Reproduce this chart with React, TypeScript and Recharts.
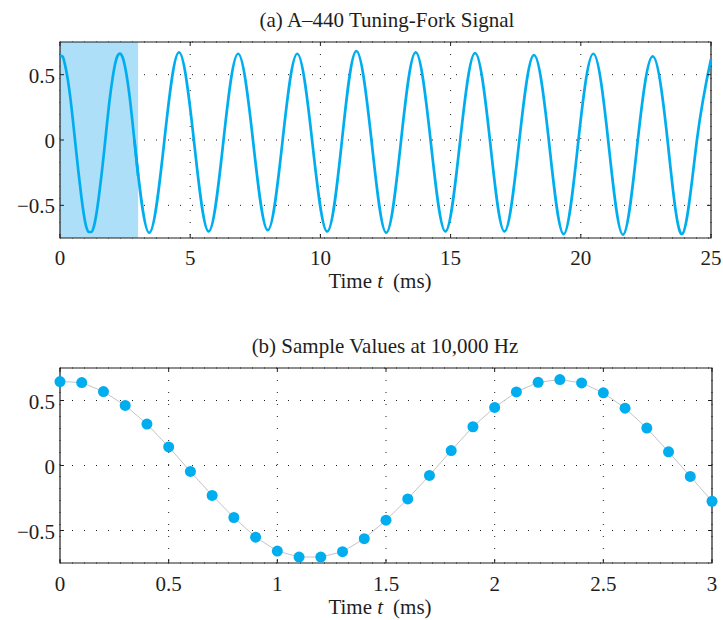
import { CartesianGrid, Line, LineChart, ReferenceArea, XAxis, YAxis } from "recharts";

// samples of the tuning-fork signal at 10 kHz (panel b), also the first 3 ms of panel a
const sampleTimes = [
  0, 0.1, 0.2, 0.3, 0.4, 0.5, 0.6, 0.7, 0.8, 0.9, 1.0, 1.1, 1.2, 1.3, 1.4, 1.5,
  1.6, 1.7, 1.8, 1.9, 2.0, 2.1, 2.2, 2.3, 2.4, 2.5, 2.6, 2.7, 2.8, 2.9, 3.0,
];
const sampleValues = [
  0.646, 0.638, 0.569, 0.462, 0.319, 0.143, -0.046, -0.23, -0.4, -0.551, -0.658,
  -0.704, -0.704, -0.663, -0.563, -0.421, -0.257, -0.076, 0.115, 0.298, 0.447,
  0.566, 0.64, 0.661, 0.635, 0.559, 0.441, 0.288, 0.105, -0.084, -0.275,
];

// rest of the signal in panel a: crossings, troughs and peaks
const forkTimes = [
  2.856, 3.43, 4.01, 4.57, 5.14, 5.71, 6.28, 6.84, 7.41, 7.98, 8.55, 9.11, 9.68,
  10.26, 10.83, 11.38, 11.96, 12.53, 13.1, 13.66, 14.23, 14.8, 15.37, 15.94, 16.51,
  17.07, 17.64, 18.2, 18.77, 19.34, 19.91, 20.48, 21.05, 21.62, 22.19, 22.76, 23.33,
  23.89, 24.46, 25.0,
];
const forkValues = [
  0, -0.71, 0, 0.67, 0, -0.7, 0, 0.66, 0, -0.69, 0, 0.66, 0, -0.7, 0, 0.68, 0, -0.71,
  0, 0.67, 0, -0.7, 0, 0.665, 0, -0.7, 0, 0.65, 0, -0.72, 0, 0.66, 0, -0.725, 0, 0.64,
  0, -0.72, 0, 0.62,
];

const topTicks = [0, 5, 10, 15, 20, 25];
const bottomTicks = [0, 0.5, 1, 1.5, 2, 2.5, 3];
const yTicks = [-0.5, 0, 0.5];
const yDomain: [number, number] = [-0.75, 0.75];
const shadeRange = [0, 3];

const samples = sampleTimes.map((t, i) => ({ t, v: sampleValues[i] }));
const forkRest = forkTimes.map((t, i) => ({ t, v: forkValues[i] }));

const cyan = "#00aeef";
const ink = "#1e1e1e";
const font = '"Liberation Serif", "Times New Roman", serif';
const GAP = 10;
const TICK = 4;
const fmtY = (v: number) => (v < 0 ? `\u2212${Math.abs(v)}` : `${v}`);

// matlab-style ticks: inward marks on both edges, label outside
function XTick(props: any) {
  const { x, y, payload, plotH, drop } = props;
  const base = y - GAP;
  return (
    <g>
      <line x1={x} x2={x} y1={base} y2={base - TICK} stroke={ink} />
      <line x1={x} x2={x} y1={base - plotH} y2={base - plotH + TICK} stroke={ink} />
      <text x={x} y={base + drop} textAnchor="middle" fill={ink} fontSize={21} fontFamily={font}>
        {payload.value}
      </text>
    </g>
  );
}

function YTick(props: any) {
  const { x, y, payload, plotW } = props;
  const base = x + GAP;
  return (
    <g>
      <line x1={base} x2={base + TICK} y1={y} y2={y} stroke={ink} />
      <line x1={base + plotW} x2={base + plotW - TICK} y1={y} y2={y} stroke={ink} />
      <text x={base - 5} y={y + 8} textAnchor="end" fill={ink} fontSize={21} fontFamily={font}>
        {fmtY(payload.value)}
      </text>
    </g>
  );
}

function Titles() {
  return (
    <svg
      width={723}
      height={620}
      style={{ position: "absolute", left: 0, top: 0, pointerEvents: "none" }}
      fontFamily={font}
      fontSize={21}
      fill={ink}
    >
      <text x={387} y={27} textAnchor="middle">(a) A–440 Tuning-Fork Signal</text>
      <text x={380} y={288} textAnchor="middle">
        Time <tspan fontStyle="italic">t</tspan>
        <tspan dx={10}>(ms)</tspan>
      </text>
      <text x={385} y={353} textAnchor="middle">(b) Sample Values at 10,000 Hz</text>
      <text x={380} y={614} textAnchor="middle">
        Time <tspan fontStyle="italic">t</tspan>
        <tspan dx={10}>(ms)</tspan>
      </text>
    </svg>
  );
}

export default function App() {
  return (
    <div style={{ position: "absolute", left: 0, top: 0, width: 723, height: 620, background: "#fff" }}>
      <LineChart width={723} height={310} margin={{ top: 42, right: 12, left: 0, bottom: 0 }}>
        <CartesianGrid stroke={ink} strokeDasharray="1 11" />
        <ReferenceArea x1={shadeRange[0]} x2={shadeRange[1]} fill="#addff8" fillOpacity={1} stroke="none" />
        <XAxis
          dataKey="t"
          type="number"
          domain={[0, 25]}
          ticks={topTicks}
          interval={0}
          height={72}
          tickSize={0}
          tickMargin={GAP}
          axisLine={false}
          tickLine={false}
          tick={(p: any) => <XTick {...p} plotH={196} drop={27} />}
        />
        <YAxis
          type="number"
          domain={yDomain}
          ticks={yTicks}
          interval={0}
          width={60}
          tickSize={0}
          tickMargin={GAP}
          axisLine={false}
          tickLine={false}
          tick={(p: any) => <YTick {...p} plotW={651} />}
        />
        <Line
          data={samples}
          dataKey="v"
          type="monotoneX"
          stroke={cyan}
          strokeWidth={2.7}
          dot={false}
          isAnimationActive={false}
        />
        <Line
          data={forkRest}
          dataKey="v"
          type="natural"
          stroke={cyan}
          strokeWidth={2.7}
          dot={false}
          isAnimationActive={false}
        />
        <ReferenceArea
          x1={0}
          x2={25}
          y1={yDomain[0]}
          y2={yDomain[1]}
          fill="#fff"
          fillOpacity={0}
          stroke={ink}
          strokeWidth={1.2}
          ifOverflow="visible"
        />
      </LineChart>
      <LineChart width={723} height={310} data={samples} margin={{ top: 58, right: 11, left: 0, bottom: 0 }}>
        <CartesianGrid stroke={ink} strokeDasharray="1 11" />
        <XAxis
          dataKey="t"
          type="number"
          domain={[0, 3]}
          ticks={bottomTicks}
          interval={0}
          height={57}
          tickSize={0}
          tickMargin={GAP}
          axisLine={false}
          tickLine={false}
          tick={(p: any) => <XTick {...p} plotH={195} drop={27.5} />}
        />
        <YAxis
          type="number"
          domain={yDomain}
          ticks={yTicks}
          interval={0}
          width={60}
          tickSize={0}
          tickMargin={GAP}
          axisLine={false}
          tickLine={false}
          tick={(p: any) => <YTick {...p} plotW={652} />}
        />
        <ReferenceArea
          x1={0}
          x2={3}
          y1={yDomain[0]}
          y2={yDomain[1]}
          fill="#fff"
          fillOpacity={0}
          stroke={ink}
          strokeWidth={1.2}
          ifOverflow="visible"
        />
        <Line
          dataKey="v"
          type="linear"
          stroke="#c4c4c4"
          strokeWidth={1}
          dot={{ r: 5.5, fill: cyan, stroke: "none" }}
          isAnimationActive={false}
        />
      </LineChart>
      <Titles />
    </div>
  );
}
